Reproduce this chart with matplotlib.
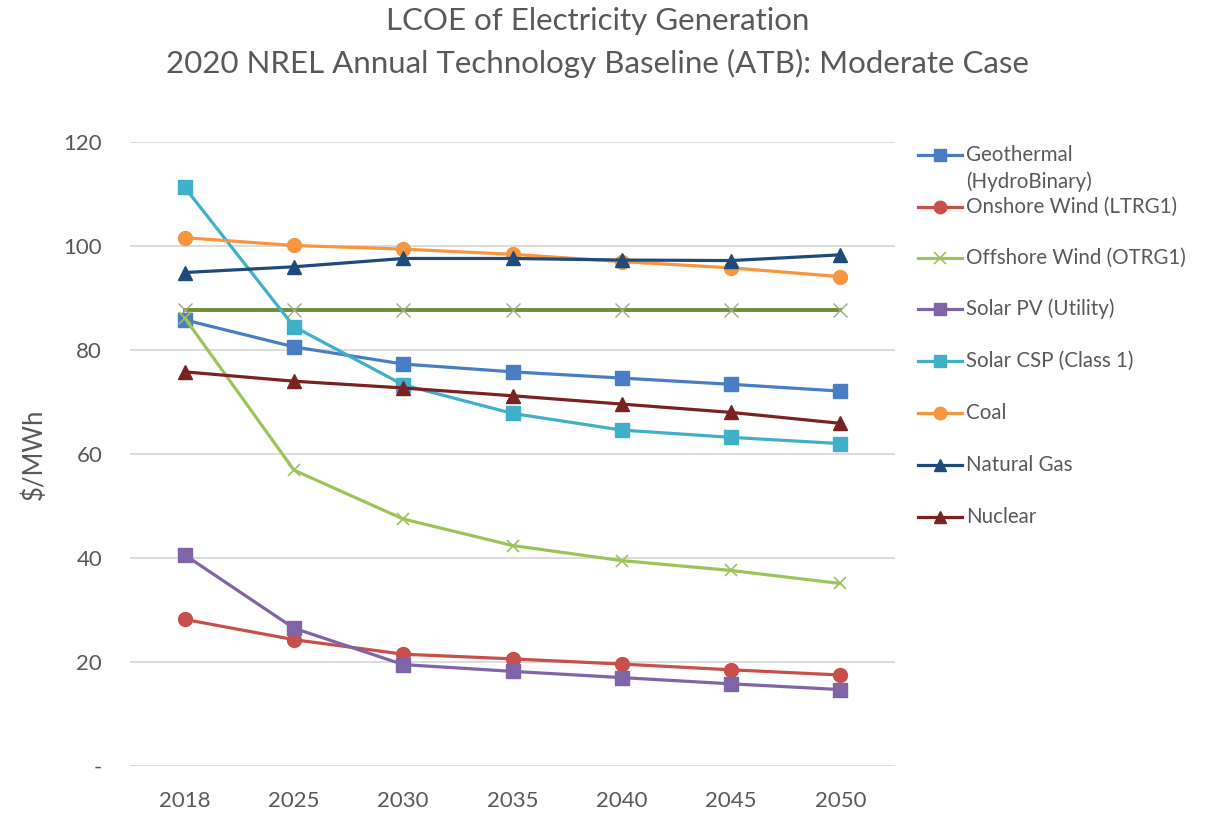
import matplotlib
matplotlib.use("Agg")
import matplotlib.pyplot as plt
from matplotlib.lines import Line2D
from matplotlib.ticker import FuncFormatter

# LCOE by technology ($/MWh), ATB 2020 moderate case
years = ["2018", "2025", "2030", "2035", "2040", "2045", "2050"]
geothermal = [85.8, 80.6, 77.3, 75.8, 74.6, 73.4, 72.1]
onshore_wind = [28.2, 24.3, 21.5, 20.6, 19.6, 18.5, 17.5]
offshore_wind = [86.2, 56.9, 47.5, 42.4, 39.5, 37.6, 35.1]
solar_pv = [40.6, 26.5, 19.5, 18.2, 17.0, 15.8, 14.7]
solar_csp = [111.3, 84.5, 73.3, 67.8, 64.6, 63.2, 62.0]
coal = [101.6, 100.1, 99.4, 98.4, 97.0, 95.8, 94.1]
natural_gas = [94.9, 96.0, 97.6, 97.6, 97.3, 97.2, 98.3]
nuclear = [75.8, 74.0, 72.7, 71.2, 69.6, 68.0, 65.9]
offshore_flat = [87.7, 87.7, 87.7, 87.7, 87.7, 87.7, 87.7]

labels = ["Geothermal\n(HydroBinary)", "Onshore Wind (LTRG1)", "Offshore Wind (OTRG1)",
          "Solar PV (Utility)", "Solar CSP (Class 1)", "Coal", "Natural Gas", "Nuclear"]

FONT = ["Lato", "DejaVu Sans"]
plt.rcParams["font.family"] = FONT
TXT = "#595959"

W, H = 1208, 815
fig = plt.figure(figsize=(W / 100, H / 100), dpi=100)
ax = fig.add_axes([130 / W, 1 - 766 / H, (895 - 130) / W, (766 - 142) / H])

x = list(range(len(years)))

series = [
    (geothermal, "#4A7EC4", "s", 10),
    (onshore_wind, "#C8504B", "o", 10),
    (offshore_wind, "#9DC45A", "x", 9),
    (solar_pv, "#8064A8", "s", 10),
    (solar_csp, "#40AFC8", "s", 10),
    (coal, "#F7963E", "o", 10),
    (natural_gas, "#1F4A7C", "^", 10),
    (nuclear, "#7A2222", "^", 10),
]

for i, (vals, col, mk, ms) in enumerate(series):
    mew = 1.2 if mk == "x" else 1.0
    ax.plot(x, vals, color=col, lw=2.3, marker=mk, ms=ms, mec=col, mfc=col,
            mew=mew, zorder=3 + i * 0.1, solid_capstyle="round")

# flat offshore reference line (not in legend)
ax.plot(x, offshore_flat, color="#6E8C3A", lw=2.8, marker="x", ms=10,
        mec="#9AAE80", mew=1.0, zorder=2.9)

ax.set_xlim(-0.5, len(years) - 0.5)
ax.set_ylim(0, 120)
ax.set_xticks(x)
ax.set_xticklabels(years)
ax.set_yticks(range(0, 121, 20))
ax.yaxis.set_major_formatter(FuncFormatter(lambda v, p: "-" if v == 0 else f"{int(v)}"))
ax.grid(axis="y", color="#D9D9D9", lw=1.3)
ax.set_axisbelow(True)
for s in ax.spines.values():
    s.set_visible(False)
ax.tick_params(axis="both", length=0, colors=TXT, labelsize=16)
ax.tick_params(axis="y", pad=20)
ax.tick_params(axis="x", pad=18)
ax.set_ylabel("$/MWh", color=TXT, fontsize=18.5, labelpad=12)

fig.text(598 / W, 1 - 21 / H, "LCOE of Electricity Generation", ha="center", va="center",
         fontsize=22.5, color=TXT)
fig.text(597 / W, 1 - 63 / H, "2020 NREL Annual Technology Baseline (ATB): Moderate Case",
         ha="center", va="center", fontsize=22.5, color=TXT)

# legend drawn in figure pixel coordinates
leg_y = [155, 207, 258, 309, 361, 413, 465, 517]
for (vals, col, mk, ms), lab, yy in zip(series, labels, leg_y):
    yf = 1 - yy / H
    xs = [918 / W, 940 / W, 962 / W]
    ln = Line2D(xs, [yf] * 3, transform=fig.transFigure, color=col, lw=2.3,
                marker=mk, ms=ms - 1, mfc=col, mec=col, markevery=[1],
                mew=1.2 if mk == "x" else 1.0)
    fig.add_artist(ln)
    parts = lab.split("\n")
    fig.text(966 / W, yf, parts[0], ha="left", va="center", fontsize=14.8, color=TXT)
    if len(parts) > 1:
        fig.text(966 / W, 1 - (yy + 27) / H, parts[1], ha="left", va="center",
                 fontsize=14.8, color=TXT)

fig.savefig("out.png", dpi=100, facecolor="white")
